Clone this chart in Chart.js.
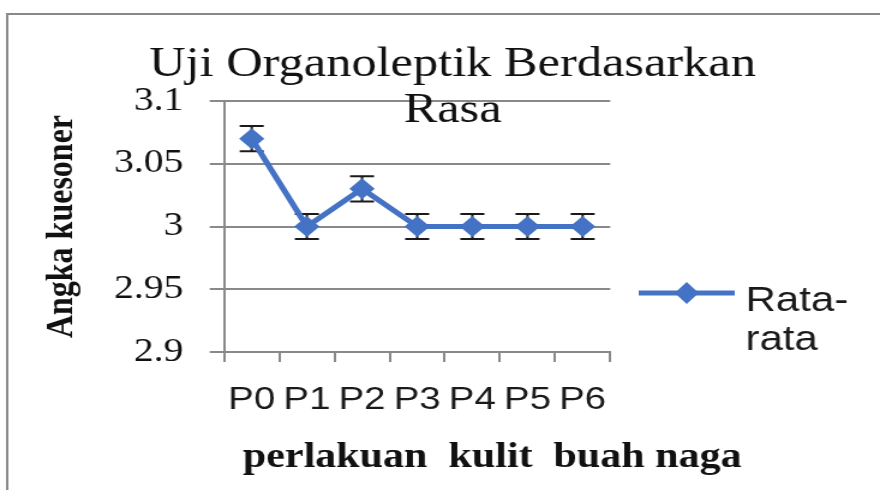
<!DOCTYPE html>
<html>
<head>
<meta charset="utf-8">
<script src="https://cdn.jsdelivr.net/npm/chart.js@4/dist/chart.umd.min.js"></script>
<style>
  html, body { margin: 0; padding: 0; background: #fff; overflow: hidden; }
  /* the original picture is stretched sideways, so draw narrow and widen */
  #wrap { width: 733px; height: 490px; transform: scaleX(1.2005); transform-origin: 0 0; }
</style>
</head>
<body>
<div id="wrap"><canvas id="rasaChart" width="733" height="490"></canvas></div>
<script>
// data
const categories = ['P0', 'P1', 'P2', 'P3', 'P4', 'P5', 'P6'];
const rataRata = [3.07, 3.00, 3.03, 3.00, 3.00, 3.00, 3.00];
const galat = [0.01, 0.01, 0.01, 0.01, 0.01, 0.01, 0.01];
const yTicks = [2.9, 2.95, 3, 3.05, 3.1];

const titleLines = ['Uji Organoleptik Berdasarkan', 'Rasa'];
const xTitle = 'perlakuan  kulit  buah naga';
const yTitle = 'Angka kuesoner';

const BLUE = '#4472C4';
const GREY = '#898989';
const SERIF = "'Liberation Serif', 'Times New Roman', serif";
const SANS = "'Liberation Sans', Arial, sans-serif";

// border, error bars, title, x title and legend
const decor = {
    id: 'decor',
    beforeDraw(chart) {
        const ctx = chart.ctx;
        ctx.save();
        ctx.fillStyle = '#fff';
        ctx.fillRect(0, 0, chart.width, chart.height);
        ctx.strokeStyle = GREY;
        ctx.lineWidth = 2;
        ctx.strokeRect(6, 14, chart.width + 20, chart.height + 20);
        ctx.restore();
    },
    beforeDatasetsDraw(chart) {
        const ctx = chart.ctx;
        const xs = chart.scales.x, ys = chart.scales.y;
        ctx.save();
        ctx.strokeStyle = '#1a1a1a';
        ctx.lineWidth = 2;
        rataRata.forEach((v, i) => {
            const x = xs.getPixelForValue(i);
            const top = ys.getPixelForValue(v + galat[i]);
            const bot = ys.getPixelForValue(v - galat[i]);
            ctx.beginPath();
            ctx.moveTo(x, top); ctx.lineTo(x, bot);
            ctx.moveTo(x - 10, top); ctx.lineTo(x + 10, top);
            ctx.moveTo(x - 10, bot); ctx.lineTo(x + 10, bot);
            ctx.stroke();
        });
        ctx.restore();
    },
    afterDraw(chart) {
        const ctx = chart.ctx;
        ctx.save();
        ctx.fillStyle = '#111';
        ctx.textAlign = 'center';
        ctx.textBaseline = 'alphabetic';
        ctx.font = '42px ' + SERIF;
        ctx.fillText(titleLines[0], 377, 76);
        ctx.fillText(titleLines[1], 377, 122);

        ctx.font = 'bold 35px ' + SERIF;
        ctx.fillText(xTitle, 410, 467);

        // legend
        const ds = chart.data.datasets[0];
        ctx.strokeStyle = ds.borderColor;
        ctx.lineWidth = 5;
        ctx.beginPath();
        ctx.moveTo(532, 293); ctx.lineTo(612, 293);
        ctx.stroke();
        ctx.fillStyle = ds.borderColor;
        ctx.beginPath();
        ctx.moveTo(572, 282); ctx.lineTo(582, 293); ctx.lineTo(572, 304); ctx.lineTo(562, 293);
        ctx.closePath();
        ctx.fill();
        ctx.fillStyle = '#1a1a1a';
        ctx.textAlign = 'left';
        ctx.font = '35px ' + SANS;
        const parts = ds.label.replace('-', '-\n').split('\n');
        parts.forEach((t, k) => ctx.fillText(t, 621, 311 + k * 39));
        ctx.restore();
    }
};

new Chart(document.getElementById('rasaChart'), {
    type: 'line',
    data: {
        labels: categories,
        datasets: [{
            label: 'Rata-rata',
            data: rataRata,
            borderColor: BLUE,
            backgroundColor: BLUE,
            borderWidth: 5,
            pointStyle: 'rectRot',
            pointRadius: 10.5,
            pointBorderWidth: 0,
            tension: 0
        }]
    },
    options: {
        responsive: false,
        animation: false,
        layout: { padding: { top: 101, right: 224.7, bottom: 63, left: 0 } },
        plugins: {
            legend: { display: false },
            tooltip: { enabled: false }
        },
        scales: {
            x: {
                offset: true,
                afterFit(scale) { scale.height = 75; },
                grid: { offset: true, drawOnChartArea: false, drawTicks: true, tickLength: 10, color: GREY, lineWidth: 2 },
                border: { color: GREY, width: 2 },
                ticks: { color: '#1a1a1a', padding: 19, font: { family: SANS, size: 32 } }
            },
            y: {
                min: 2.9,
                max: 3.1,
                afterFit(scale) { scale.width = 186.7; },
                afterBuildTicks(scale) { scale.ticks = yTicks.map(v => ({ value: v })); },
                grid: { color: GREY, lineWidth: 2, drawTicks: true, tickLength: 12 },
                border: { color: GREY, width: 2 },
                ticks: {
                    color: '#111',
                    padding: 22,
                    font: { family: SERIF, size: 33 },
                    callback: v => String(Number(v.toFixed(2)))
                },
                title: {
                    display: true,
                    text: yTitle,
                    color: '#111',
                    font: { family: SERIF, size: 32, weight: 'bold' },
                    padding: { top: 33, bottom: 0 }
                }
            }
        }
    },
    plugins: [decor]
});
</script>
</body>
</html>
